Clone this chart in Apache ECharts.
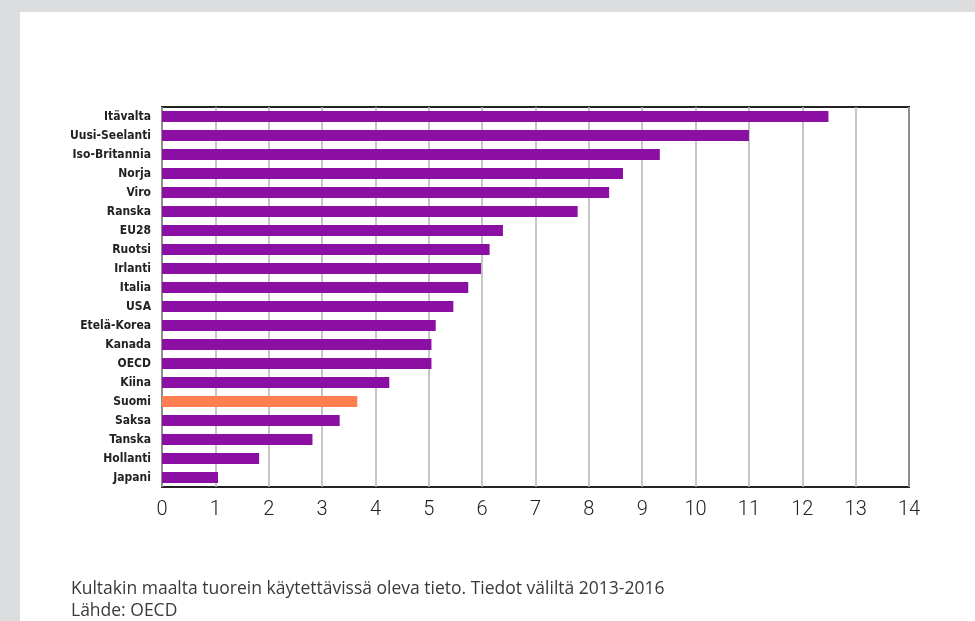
<!DOCTYPE html>
<html>
<head>
<meta charset="utf-8">
<script src="https://cdn.jsdelivr.net/npm/echarts@6/dist/echarts.min.js"></script>
<style>
  html, body { margin: 0; padding: 0; background: #ffffff; }
  #chart { width: 975px; height: 621px; }
</style>
</head>
<body>
<div id="chart"></div>
<script>
// Countries, top to bottom
const categories = [
  'Itävalta', 'Uusi-Seelanti', 'Iso-Britannia', 'Norja', 'Viro', 'Ranska',
  'EU28', 'Ruotsi', 'Irlanti', 'Italia', 'USA', 'Etelä-Korea', 'Kanada',
  'OECD', 'Kiina', 'Suomi', 'Saksa', 'Tanska', 'Hollanti', 'Japani'
];
const values = [
  12.49, 11.0, 9.33, 8.64, 8.38, 7.79,
  6.39, 6.14, 5.98, 5.74, 5.46, 5.13, 5.05,
  5.05, 4.26, 3.66, 3.33, 2.82, 1.82, 1.05
];
const highlighted = 'Suomi';
const xTicks = [0, 14, 1]; // min, max, interval
const footnotes = [
  'Kultakin maalta tuorein käytettävissä oleva tieto. Tiedot väliltä 2013-2016',
  'Lähde: OECD'
];

const PURPLE = '#8B0FA3';
const ORANGE = '#FF7F50';

const chart = echarts.init(document.getElementById('chart'), null, { renderer: 'canvas' });

chart.setOption({
  animation: false,
  backgroundColor: '#ffffff',
  graphic: [
    { type: 'rect', left: 0, top: 0, shape: { width: 975, height: 12 }, style: { fill: '#DCDDDF' }, z: -10 },
    { type: 'rect', left: 0, top: 0, shape: { width: 20, height: 621 }, style: { fill: '#DCDDDF' }, z: -10 },
    {
      type: 'text', left: 71, top: 578,
      style: {
        text: footnotes.join('\n'),
        font: '17.5px "Open Sans", "Noto Sans", sans-serif',
        fill: '#3a3a3a',
        lineHeight: 22
      }
    }
  ],
  grid: {
    left: 162, right: 66, top: 107, bottom: 134,
    show: true, borderColor: '#222222', borderWidth: 2,
    containLabel: false
  },
  xAxis: {
    type: 'value',
    min: xTicks[0], max: xTicks[1], interval: xTicks[2],
    axisLine: { show: false },
    axisTick: { show: false },
    splitLine: { show: true, lineStyle: { color: '#b3b3b3', width: 1.5 } },
    axisLabel: {
      margin: 13,
      fontSize: 20,
      color: '#222222',
      fontFamily: '"Roboto", "Noto Sans", sans-serif',
      fontWeight: 300
    }
  },
  yAxis: {
    type: 'category',
    data: categories,
    inverse: true,
    axisLine: { show: false },
    axisTick: { show: false },
    splitLine: { show: false },
    axisLabel: {
      margin: 11,
      fontSize: 12,
      fontWeight: 'bold',
      color: '#222222',
      fontFamily: '"Liberation Sans Narrow", "DejaVu Sans Condensed", "Roboto", sans-serif'
    }
  },
  series: [{
    type: 'bar',
    barWidth: 11,
    data: values.map((v, i) => ({
      value: v,
      itemStyle: { color: categories[i] === highlighted ? ORANGE : PURPLE }
    })),
    label: { show: false }
  }]
});
</script>
</body>
</html>
